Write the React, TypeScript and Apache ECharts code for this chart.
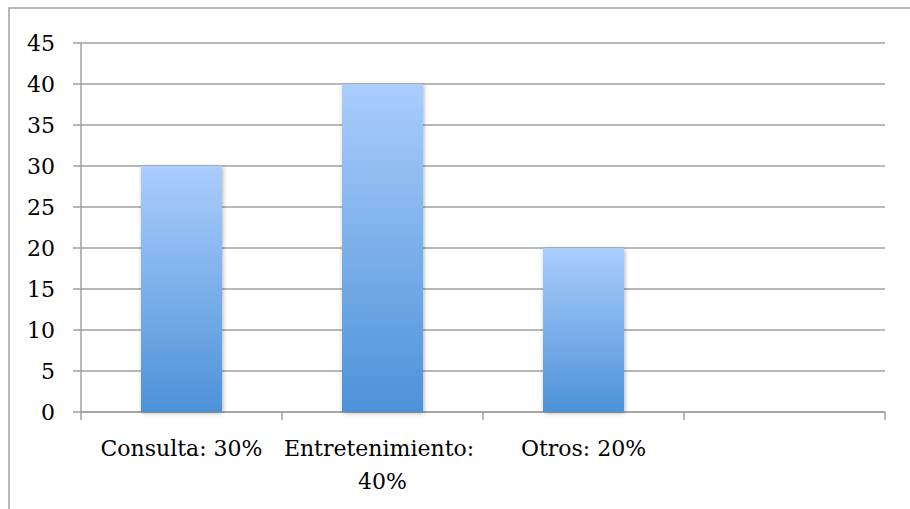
import React, { useEffect, useRef } from "react";
import * as echarts from "echarts";

const categories = ["Consulta: 30%", "Entretenimiento: 40%", "Otros: 20%", ""];
const values = [30, 40, 20, null];
const yTicks = { min: 0, max: 45, interval: 5 };

export default function App() {
  const ref = useRef<HTMLDivElement>(null);
  useEffect(() => {
    document.body.style.margin = "0";
    const chart = echarts.init(ref.current!, null, { renderer: "svg" });
    const font = "DejaVu Serif";
    chart.setOption({
      animation: false,
      backgroundColor: "#ffffff",
      graphic: [
        {
          type: "rect",
          shape: { x: 9, y: 8, width: 1000, height: 600 },
          style: { fill: "none", stroke: "#a0a0a0", lineWidth: 1.5 },
          silent: true,
        },
      ],
      grid: { left: 81, right: 25, top: 43, bottom: 97, containLabel: false },
      xAxis: {
        type: "category",
        data: categories,
        boundaryGap: true,
        axisLine: { show: true, lineStyle: { color: "#a0a0a0", width: 1.5 } },
        axisTick: { show: true, length: 8, lineStyle: { color: "#a0a0a0", width: 1.5 } },
        axisLabel: {
          color: "#000",
          fontFamily: font,
          fontSize: 22,
          margin: 20,
          lineHeight: 33,
          width: 200,
          overflow: "break",
          interval: 0,
        },
      },
      yAxis: {
        type: "value",
        min: yTicks.min,
        max: yTicks.max,
        interval: yTicks.interval,
        axisLine: { show: true, lineStyle: { color: "#a0a0a0", width: 1.5 } },
        axisTick: { show: true, length: 8, lineStyle: { color: "#a0a0a0", width: 1.5 } },
        splitLine: { show: true, lineStyle: { color: "#a0a0a0", width: 1.5 } },
        axisLabel: { color: "#000", fontFamily: font, fontSize: 22, margin: 26 },
      },
      series: [
        {
          type: "bar",
          data: values,
          barWidth: 81,
          itemStyle: {
            color: new echarts.graphic.LinearGradient(0, 0, 0, 1, [
              { offset: 0, color: "#aacdfd" },
              { offset: 1, color: "#4d92d8" },
            ]),
            shadowBlur: 4,
            shadowColor: "rgba(0,0,0,0.3)",
            shadowOffsetX: 1,
            shadowOffsetY: 1,
          },
        },
      ],
    });
    return () => chart.dispose();
  }, []);
  return <div ref={ref} style={{ width: 910, height: 509 }} />;
}
